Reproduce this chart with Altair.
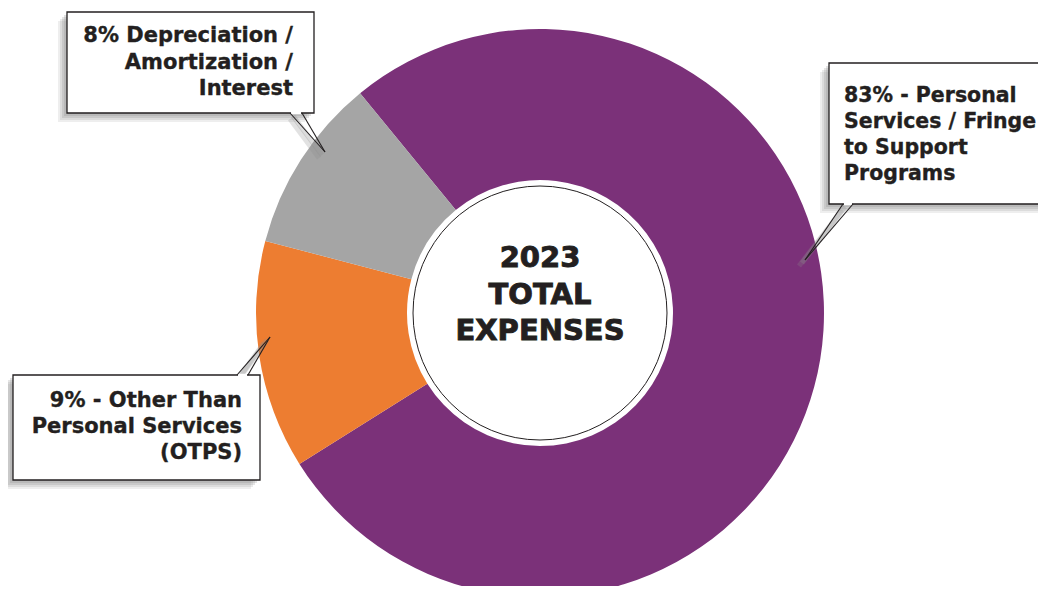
import math
import altair as alt
import pandas as pd

# ---- data -------------------------------------------------------------
categories = [
    "Personal Services / Fringe to Support Programs",
    "Other Than Personal Services (OTPS)",
    "Depreciation / Amortization / Interest",
]
drawn_share = [77, 13, 10]          # share of the ring as drawn in the picture
slice_colors = ["#7B3179", "#ED7D31", "#A5A5A5"]

label_ps = ["83% - Personal", "Services / Fringe", "to Support", "Programs"]
label_otps = ["9% - Other Than", "Personal Services", "(OTPS)"]
label_dep = ["8% Depreciation /", "Amortization /", "Interest"]
center_title = ["2023", "TOTAL", "EXPENSES"]

INK = "#231F20"
FONT = "DejaVu Sans"

df = pd.DataFrame({"category": categories, "share": drawn_share,
                   "order": list(range(len(categories)))})
one = pd.DataFrame({"k": [0]})

CX, CY = 532, 305
start = math.radians(-39.3)

donut = alt.Chart(df).mark_arc(outerRadius=284, innerRadius=133, strokeWidth=0).encode(
    x=alt.value(CX), y=alt.value(CY),
    theta=alt.Theta("share:Q", stack=True,
                    scale=alt.Scale(range=[start, start + 2 * math.pi])),
    color=alt.Color("category:N", scale=alt.Scale(domain=categories, range=slice_colors),
                    legend=None),
    order=alt.Order("order:Q"),
)

inner = alt.Chart(one).mark_arc(outerRadius=127, innerRadius=0, fill="white",
                                stroke=INK, strokeWidth=1).encode(
    x=alt.value(CX), y=alt.value(CY),
    theta=alt.value(0), theta2=alt.value(2 * math.pi),
)

layers = [donut, inner]


def callout(x0, y0, x1, y1, base_a, base_b, tip, lines, tx, ty, align, lh, fs=21):
    out = []
    # soft shadow (offset to lower-left)
    for d, op in [(9, 0.14), (7, 0.18), (5, 0.22), (3, 0.25)]:
        out.append(alt.Chart(one).mark_rect(fill="#8a8a8a", opacity=op).encode(
            x=alt.value(x0 - d), x2=alt.value(x1 - d),
            y=alt.value(y0 + d), y2=alt.value(y1 + d)))
    # shadow of the pointer
    for d, op in [(6, 0.25), (3, 0.3)]:
        out.append(alt.Chart(one).mark_rule(color="#8a8a8a", opacity=op, strokeWidth=5).encode(
            x=alt.value((base_a[0] + base_b[0]) / 2 - d), y=alt.value(base_a[1] + d),
            x2=alt.value(tip[0] - d), y2=alt.value(tip[1] + d)))
    out.append(alt.Chart(one).mark_rect(fill="white", stroke=INK, strokeWidth=1.3).encode(
        x=alt.value(x0), x2=alt.value(x1), y=alt.value(y0), y2=alt.value(y1)))
    # pointer wedge
    by = base_a[1]
    out.append(alt.Chart(one).mark_rule(color="white", strokeWidth=2.5).encode(
        x=alt.value(base_a[0] + 1), x2=alt.value(base_b[0] - 1),
        y=alt.value(by), y2=alt.value(by)))
    for b in (base_a, base_b):
        out.append(alt.Chart(one).mark_rule(color=INK, strokeWidth=1.1).encode(
            x=alt.value(b[0]), y=alt.value(b[1]),
            x2=alt.value(tip[0]), y2=alt.value(tip[1])))
    for i, line in enumerate(lines):
        out.append(alt.Chart(one).mark_text(
            font=FONT, fontWeight="bold", fontSize=fs, align=align,
            baseline="alphabetic", color=INK, stroke=INK, strokeWidth=0.35).encode(
            x=alt.value(tx), y=alt.value(ty + i * lh), text=alt.value(line)))
    return out


layers += callout(59, 4, 306, 105, (282, 105), (294, 105), (317, 144),
                  label_dep, 285, 34, "right", 26.6)
layers += callout(821, 55, 1060, 196, (835, 196), (845, 196), (797, 252),
                  label_ps, 836, 94, "left", 25.9, fs=20.5)
layers += callout(5, 367, 252, 472, (229, 367), (240, 367), (262, 329),
                  label_otps, 234, 399, "right", 25.8)

for i, line in enumerate(center_title):
    layers.append(alt.Chart(one).mark_text(
        font=FONT, fontWeight="bold", fontSize=29, align="center",
        baseline="alphabetic", color=INK, stroke=INK, strokeWidth=0.9).encode(
        x=alt.value(CX), y=alt.value(259 + i * 36.5), text=alt.value(line)))

chart = alt.layer(*layers).properties(
    width=1030, height=578, padding=0, autosize="none"
).configure_view(strokeWidth=0)

chart.save("out.html", embed_options={"renderer": "svg", "actions": False})
